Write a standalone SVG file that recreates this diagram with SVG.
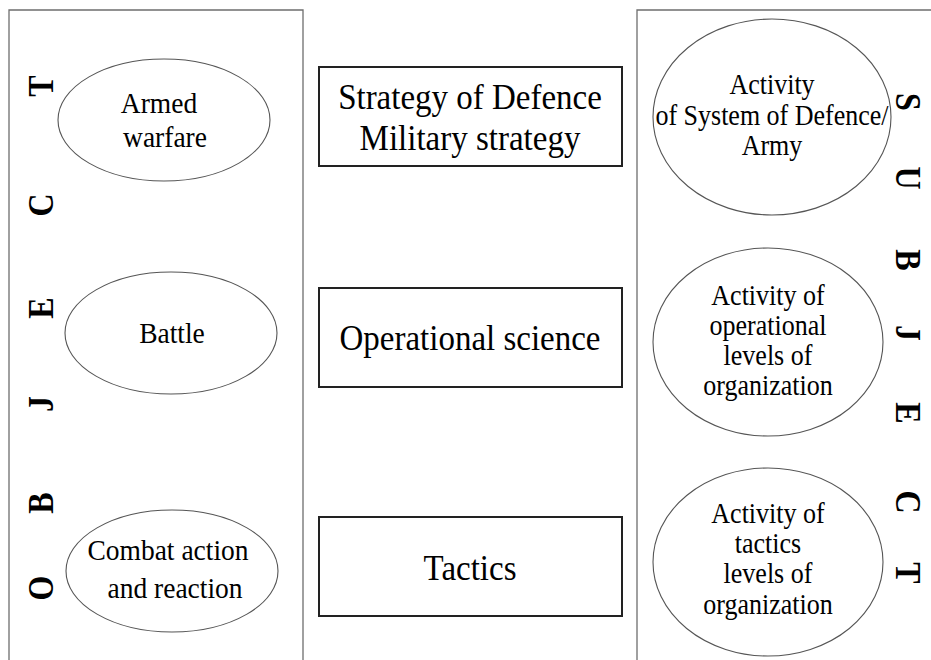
<svg xmlns="http://www.w3.org/2000/svg" width="931" height="660" viewBox="0 0 931 660">
<style>
.panel{fill:none;stroke:#6e6e6e;stroke-width:1.3}
.ell{fill:#fff;stroke:#555;stroke-width:1.1}
.box{fill:#fff;stroke:#222;stroke-width:2}
text{font-family:'Liberation Serif','DejaVu Serif',serif;fill:#000;text-anchor:middle}
.e{font-size:27.5px}
.r{font-size:26px}
.b{font-size:33px}
.L{font-weight:bold;font-size:32px}
</style>
<rect width="931" height="660" fill="#fff"/>
<g id="object-panel">
<path class="panel" d="M9,662 V10 H303 V662"/>
<text class="L" transform="translate(53,86) rotate(-90) scale(1,1.15)">T</text>
<text class="L" transform="translate(53,205) rotate(-90) scale(1,1.15)">C</text>
<text class="L" transform="translate(53,308) rotate(-90) scale(1,1.15)">E</text>
<text class="L" transform="translate(53,404) rotate(-90) scale(1,1.15)">J</text>
<text class="L" transform="translate(53,503) rotate(-90) scale(1,1.15)">B</text>
<text class="L" transform="translate(53,588) rotate(-90) scale(1,1.15)">O</text>
</g>
<g id="subject-panel">
<path class="panel" d="M637,662 V10 H933"/>
<text class="L" transform="translate(896,102) rotate(90) scale(1,1.15)">S</text>
<text class="L" transform="translate(896,178) rotate(90) scale(1,1.15)">U</text>
<text class="L" transform="translate(896,260) rotate(90) scale(1,1.15)">B</text>
<text class="L" transform="translate(896,333) rotate(90) scale(1,1.15)">J</text>
<text class="L" transform="translate(896,413) rotate(90) scale(1,1.15)">E</text>
<text class="L" transform="translate(896,502) rotate(90) scale(1,1.15)">C</text>
<text class="L" transform="translate(896,573) rotate(90) scale(1,1.15)">T</text>
</g>
<g id="armed-warfare">
<ellipse class="ell" cx="164" cy="120" rx="106" ry="61"/>
<text class="e" transform="translate(159,113) scale(1,1.1)">Armed</text>
<text class="e" transform="translate(165,147) scale(1,1.1)">warfare</text>
</g>
<g id="battle">
<ellipse class="ell" cx="171" cy="333" rx="106" ry="61"/>
<text class="e" transform="translate(172,343) scale(1,1.1)">Battle</text>
</g>
<g id="combat">
<ellipse class="ell" cx="172" cy="571" rx="106" ry="61"/>
<text class="e" transform="translate(168,560) scale(1,1.1)">Combat action</text>
<text class="e" transform="translate(175,598) scale(1,1.1)">and reaction</text>
</g>
<g id="strategy">
<rect class="box" x="319" y="67" width="303" height="99"/>
<text class="b" transform="translate(470,109) scale(1,1.1)">Strategy of Defence</text>
<text class="b" transform="translate(470,150) scale(1,1.1)">Military strategy</text>
</g>
<g id="operational">
<rect class="box" x="319" y="288" width="303" height="99"/>
<text class="b" transform="translate(470,350) scale(1,1.1)">Operational science</text>
</g>
<g id="tactics">
<rect class="box" x="319" y="517" width="303" height="99"/>
<text class="b" transform="translate(470,580) scale(1,1.1)">Tactics</text>
</g>
<g id="activity-defence">
<ellipse class="ell" cx="772" cy="117" rx="119" ry="98"/>
<text class="r" transform="translate(772,94) scale(1,1.1)">Activity</text>
<text class="r" transform="translate(772,125) scale(1,1.1)">of System of Defence/</text>
<text class="r" transform="translate(772,155) scale(1,1.1)">Army</text>
</g>
<g id="activity-operational">
<ellipse class="ell" cx="768" cy="342" rx="115" ry="94"/>
<text class="r" transform="translate(768,305) scale(1,1.1)">Activity of</text>
<text class="r" transform="translate(768,335) scale(1,1.1)">operational</text>
<text class="r" transform="translate(768,365) scale(1,1.1)">levels of</text>
<text class="r" transform="translate(768,395) scale(1,1.1)">organization</text>
</g>
<g id="activity-tactics">
<ellipse class="ell" cx="768" cy="562" rx="115" ry="94"/>
<text class="r" transform="translate(768,523) scale(1,1.1)">Activity of</text>
<text class="r" transform="translate(768,553) scale(1,1.1)">tactics</text>
<text class="r" transform="translate(768,583) scale(1,1.1)">levels of</text>
<text class="r" transform="translate(768,614) scale(1,1.1)">organization</text>
</g>
<g id="connectors"></g>
</svg>
